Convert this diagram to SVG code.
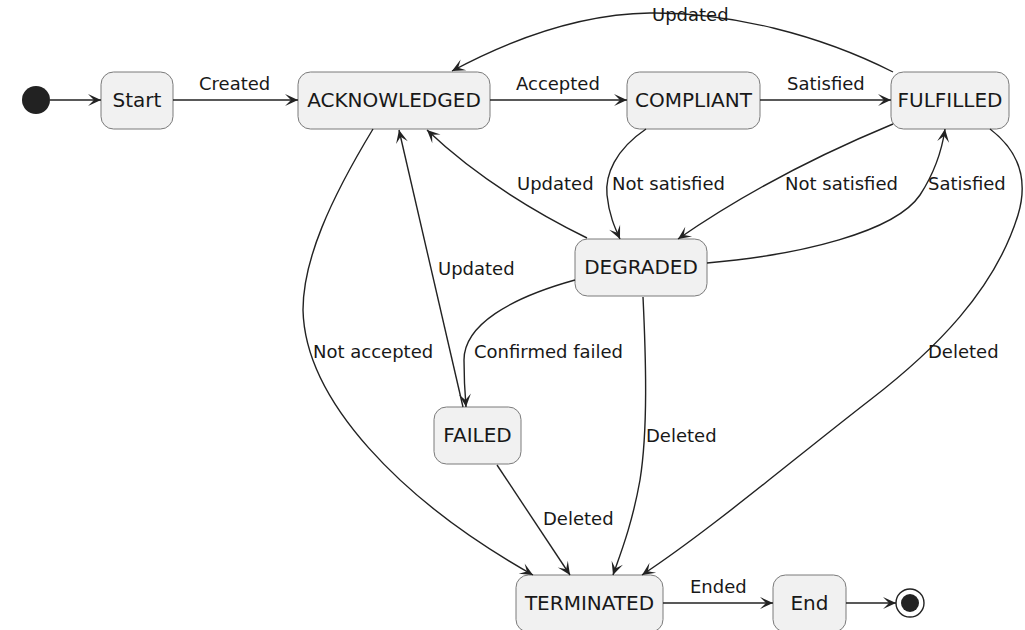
<svg xmlns="http://www.w3.org/2000/svg" width="1025" height="630" viewBox="0 0 1025 630">
<style>
.node rect{fill:#F1F1F1;stroke:#7a7a7a;stroke-width:1}
.node text{font-family:"DejaVu Sans",sans-serif;font-size:20px;fill:#181818;text-anchor:middle}
.edges path{fill:none;stroke:#222;stroke-width:1.4;marker-end:url(#arr)}
.lbl{font-family:"DejaVu Sans",sans-serif;font-size:18px;fill:#181818}
</style>
<defs>
<marker id="arr" viewBox="-14 -7 15 14" refX="0" refY="0" markerWidth="15" markerHeight="14" markerUnits="userSpaceOnUse" orient="auto">
<path d="M0,0 L-13,-6 L-7,0 L-13,6 Z" fill="#222"/>
</marker>
</defs>
<rect width="1025" height="630" fill="#fff"/>
<g id="initial"><circle cx="36" cy="100" r="14" fill="#222"/></g>
<g id="final"><circle cx="910" cy="603" r="14" fill="none" stroke="#222" stroke-width="1.4"/><circle cx="910" cy="603" r="9" fill="#222"/></g>
<g id="Start" class="node"><rect x="101" y="72" width="72" height="57" rx="12.5"/><text x="137" y="107">Start</text></g>
<g id="ACKNOWLEDGED" class="node"><rect x="298" y="72" width="192" height="57" rx="12.5"/><text x="394" y="107">ACKNOWLEDGED</text></g>
<g id="COMPLIANT" class="node"><rect x="627" y="72" width="133" height="57" rx="12.5"/><text x="693.5" y="107">COMPLIANT</text></g>
<g id="FULFILLED" class="node"><rect x="891" y="72" width="118" height="57" rx="12.5"/><text x="950" y="107">FULFILLED</text></g>
<g id="DEGRADED" class="node"><rect x="575" y="239" width="132" height="57" rx="12.5"/><text x="641" y="274">DEGRADED</text></g>
<g id="FAILED" class="node"><rect x="434" y="407" width="87" height="57" rx="12.5"/><text x="477.5" y="442">FAILED</text></g>
<g id="TERMINATED" class="node"><rect x="516" y="575" width="147" height="57" rx="12.5"/><text x="589.5" y="610">TERMINATED</text></g>
<g id="End" class="node"><rect x="773" y="575" width="73" height="57" rx="12.5"/><text x="809.5" y="610">End</text></g>
<g id="edges" class="edges">
<path d="M50,100 L101,100"/>
<path d="M173,100 L298,100"/>
<path d="M490,100 L627,100"/>
<path d="M760,100 L891,100"/>
<path d="M893,72 C820,35 730,12 650,13 C580,14 510,40 452,71"/>
<path d="M646,129 C615,150 605,175 607,195 C609,215 615,228 620,239"/>
<path d="M893,124 Q770,175 678,239"/>
<path d="M707,263 C800,255 895,232 920,195 C935,172 942,150 945,129"/>
<path d="M587,238 Q490,190 427,130"/>
<path d="M463,407 L399,130"/>
<path d="M575,280 C510,298 464,325 464,360 C464,380 465,395 466,407"/>
<path d="M373,129 C330,200 303,260 303,310 C305,400 400,500 533,575"/>
<path d="M497,465 L570,575"/>
<path d="M643,297 C646,360 648,430 640,480 C632,525 620,555 613,575"/>
<path d="M990,129 C1015,148 1030,175 1018,215 C995,290 935,350 870,400 C790,462 710,530 642,575"/>
<path d="M663,603 L773,603"/>
<path d="M846,603 L896,603"/>
</g>
<g id="labels">
<text class="lbl" x="199" y="90">Created</text>
<text class="lbl" x="516" y="90">Accepted</text>
<text class="lbl" x="787" y="90">Satisfied</text>
<text class="lbl" x="652" y="21">Updated</text>
<text class="lbl" x="612" y="190">Not satisfied</text>
<text class="lbl" x="785" y="190">Not satisfied</text>
<text class="lbl" x="928" y="190">Satisfied</text>
<text class="lbl" x="517" y="190">Updated</text>
<text class="lbl" x="438" y="275">Updated</text>
<text class="lbl" x="474" y="358">Confirmed failed</text>
<text class="lbl" x="313" y="358">Not accepted</text>
<text class="lbl" x="543" y="525">Deleted</text>
<text class="lbl" x="646" y="442">Deleted</text>
<text class="lbl" x="928" y="358">Deleted</text>
<text class="lbl" x="690" y="593">Ended</text>
</g>
</svg>
